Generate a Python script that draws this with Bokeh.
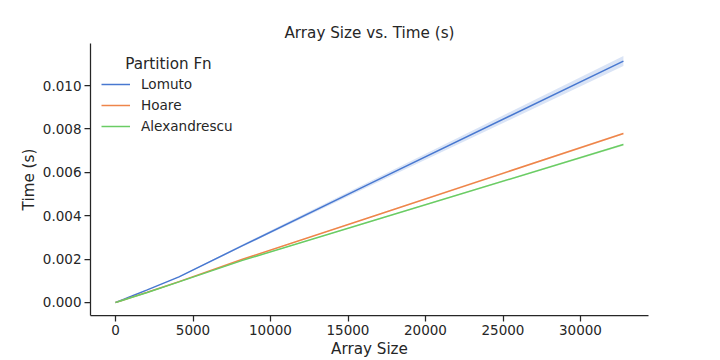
from bokeh.plotting import figure
from bokeh.models import ColumnDataSource, Legend, LegendItem, Label, FixedTicker, NumeralTickFormatter, Range1d
from bokeh.embed import file_html
from bokeh.resources import INLINE

# ---- data ----
sizes = [1, 2, 4, 8, 16, 32, 64, 128, 256, 512, 1024, 2048, 4096, 8192, 16384, 32768]

lomuto = [0.0000005, 0.0000008, 0.0000012, 0.0000022, 0.0000041, 0.0000080, 0.0000160, 0.0000330,
          0.0000680, 0.000140, 0.000285, 0.000580, 0.00118, 0.00262, 0.00547, 0.01113]
lomuto_lo = [0.0000004, 0.0000007, 0.0000011, 0.0000021, 0.0000039, 0.0000077, 0.0000155, 0.0000322,
             0.0000665, 0.000137, 0.000280, 0.000570, 0.00116, 0.00257, 0.00536, 0.01090]
lomuto_hi = [0.0000006, 0.0000009, 0.0000013, 0.0000023, 0.0000043, 0.0000083, 0.0000165, 0.0000338,
             0.0000695, 0.000143, 0.000290, 0.000590, 0.00120, 0.00267, 0.00558, 0.01136]

hoare = [0.0000004, 0.0000006, 0.0000010, 0.0000019, 0.0000036, 0.0000070, 0.0000140, 0.0000280,
         0.0000570, 0.000116, 0.000234, 0.000470, 0.00096, 0.00199, 0.00392, 0.00779]
hoare_lo = [0.0000004, 0.0000006, 0.0000010, 0.0000018, 0.0000035, 0.0000069, 0.0000138, 0.0000277,
            0.0000565, 0.000115, 0.000232, 0.000466, 0.00095, 0.00197, 0.00389, 0.00774]
hoare_hi = [0.0000005, 0.0000007, 0.0000011, 0.0000020, 0.0000037, 0.0000071, 0.0000142, 0.0000283,
            0.0000575, 0.000117, 0.000236, 0.000474, 0.00097, 0.00201, 0.00395, 0.00784]

alex = [0.0000004, 0.0000006, 0.0000010, 0.0000018, 0.0000035, 0.0000068, 0.0000137, 0.0000275,
        0.0000560, 0.000114, 0.000230, 0.000462, 0.00095, 0.00194, 0.00372, 0.00728]
alex_lo = [0.0000004, 0.0000006, 0.0000010, 0.0000017, 0.0000034, 0.0000067, 0.0000135, 0.0000272,
           0.0000555, 0.000113, 0.000228, 0.000458, 0.00094, 0.00192, 0.00369, 0.00723]
alex_hi = [0.0000005, 0.0000007, 0.0000011, 0.0000019, 0.0000036, 0.0000069, 0.0000139, 0.0000278,
           0.0000565, 0.000115, 0.000232, 0.000466, 0.00096, 0.00196, 0.00375, 0.00733]

series_names = ["Lomuto", "Hoare", "Alexandrescu"]
colors = ["#4878d0", "#ee854a", "#6acc64"]
x_ticks = [0, 5000, 10000, 15000, 20000, 25000, 30000]
y_ticks = [0.0, 0.002, 0.004, 0.006, 0.008, 0.010]

FONT = "DejaVu Sans"
TXT = "#262626"

p = figure(width=720, height=360, output_backend="svg", toolbar_location=None,
           title="Array Size vs. Time (s)",
           x_range=Range1d(-1613, 34387), y_range=Range1d(-0.0006, 0.01194),
           min_border_left=90, min_border_right=72, min_border_top=43, min_border_bottom=45)

p.title.align = "center"
p.title.text_font = FONT
p.title.text_font_size = "15.2px"
p.title.text_font_style = "normal"
p.title.text_color = TXT
p.title.standoff = 4

p.grid.visible = False
p.outline_line_color = None
p.background_fill_color = "white"
p.border_fill_color = "white"

for ax in (p.xaxis[0], p.yaxis[0]):
    ax.axis_line_color = TXT
    ax.axis_line_width = 1.25
    ax.major_tick_line_color = TXT
    ax.major_tick_line_width = 1.25
    ax.major_tick_out = 6
    ax.major_tick_in = 0
    ax.minor_tick_line_color = None
    ax.major_label_text_font = FONT
    ax.major_label_text_font_size = "13.5px"
    ax.major_label_text_color = TXT
    ax.axis_label_text_font = FONT
    ax.axis_label_text_font_size = "15.2px"
    ax.axis_label_text_font_style = "normal"
    ax.axis_label_text_color = TXT
    ax.major_label_standoff = 3
    ax.axis_label_standoff = 2

p.xaxis.axis_label = "Array Size"
p.yaxis.axis_label = "Time (s)"
p.xaxis.ticker = FixedTicker(ticks=x_ticks)
p.yaxis.ticker = FixedTicker(ticks=y_ticks)
p.yaxis.formatter = NumeralTickFormatter(format="0.000")

data = [(lomuto, lomuto_lo, lomuto_hi), (hoare, hoare_lo, hoare_hi), (alex, alex_lo, alex_hi)]
items = []
for name, col, (mid, lo, hi) in zip(series_names, colors, data):
    src = ColumnDataSource(dict(x=sizes, y=mid, lo=lo, hi=hi))
    p.varea(x="x", y1="lo", y2="hi", source=src, fill_color=col, fill_alpha=0.2)
    r = p.line(x="x", y="y", source=src, line_color=col, line_width=1.5)
    items.append(LegendItem(label=name, renderers=[r]))

legend = Legend(items=items, location=(11, 180), orientation="vertical",
                border_line_alpha=0, background_fill_alpha=0,
                label_text_font=FONT, label_text_font_size="13.6px", label_text_color=TXT,
                glyph_width=29, glyph_height=18, label_height=18, spacing=3,
                label_standoff=11, padding=0, margin=0)
p.add_layout(legend, "center")

p.add_layout(Label(x=78, y=252, x_units="screen", y_units="screen", text="Partition Fn",
                   text_font=FONT, text_font_size="15.2px", text_color=TXT,
                   text_align="center", text_baseline="middle"))

open("out.html", "w").write(file_html(p, INLINE))
